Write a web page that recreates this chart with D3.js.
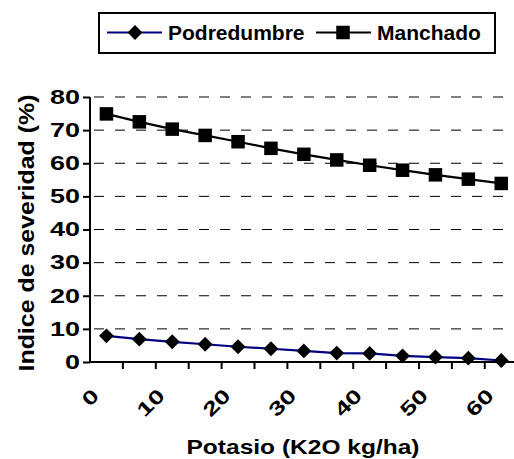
<!DOCTYPE html>
<html>
<head>
<meta charset="utf-8">
<script src="https://cdn.jsdelivr.net/npm/d3@7"></script>
<style>
  html, body { margin: 0; padding: 0; background: #fff; }
  svg { display: block; font-family: "Liberation Sans", Arial, sans-serif; font-weight: bold; }
</style>
</head>
<body>
<svg id="chart" width="514" height="459"></svg>
<script>
const categories = [0, 5, 10, 15, 20, 25, 30, 35, 40, 45, 50, 55, 60];
const podredumbre = [7.9, 6.9, 6.1, 5.35, 4.6, 4.0, 3.35, 2.7, 2.6, 1.85, 1.5, 1.15, 0.45];
const manchado = [74.9, 72.5, 70.3, 68.4, 66.5, 64.5, 62.7, 61.0, 59.4, 57.9, 56.5, 55.2, 53.9];
const yTicks = [0, 10, 20, 30, 40, 50, 60, 70, 80];
const xTickLabels = [0, 10, 20, 30, 40, 50, 60];
const seriesNames = ["Podredumbre", "Manchado"];
const yTitle = "Indice de severidad (%)";
const xTitle = "Potasio (K2O kg/ha)";

(function () {
const svg = d3.select("#chart");
const pLeft = 90, pTop = 97, pBottom = 362, bandW = 32.9;
const pRight = pLeft + categories.length * bandW;
const digitW = 15;

const x = d3.scaleBand().domain(categories).range([pLeft, pRight]).paddingInner(0).paddingOuter(0);
const y = d3.scaleLinear().domain([0, 80]).range([pBottom, pTop]);
const cx = c => x(c) + x.bandwidth() / 2;

// gridlines
svg.append("g").selectAll("line").data(yTicks.filter(v => v > 0)).join("line")
  .attr("x1", pLeft + 4).attr("x2", 514)
  .attr("y1", d => y(d)).attr("y2", d => y(d))
  .attr("stroke", "#000").attr("stroke-width", 1).attr("stroke-dasharray", "10,11");

// y axis
const yAxis = svg.append("g").attr("transform", `translate(${pLeft},0)`)
  .call(d3.axisLeft(y).tickValues(yTicks).tickSize(7).tickPadding(3));
yAxis.select(".domain").attr("stroke", "#000").attr("stroke-width", 2).attr("d", `M0,${pTop}V${pBottom + 1}`);
yAxis.selectAll(".tick line").attr("stroke", "#000").attr("stroke-width", 2);
yAxis.selectAll(".tick text").attr("font-size", 19.5).attr("font-weight", "bold")
  .attr("font-family", "Liberation Sans, Arial, sans-serif").attr("fill", "#000")
  .attr("textLength", d => String(d).length * digitW).attr("lengthAdjust", "spacingAndGlyphs");

// x axis
svg.append("line").attr("x1", pLeft - 1).attr("x2", 514).attr("y1", pBottom).attr("y2", pBottom)
  .attr("stroke", "#000").attr("stroke-width", 2);
svg.append("g").selectAll("line").data(categories.slice(1)).join("line")
  .attr("x1", d => x(d)).attr("x2", d => x(d))
  .attr("y1", pBottom).attr("y2", pBottom + 7)
  .attr("stroke", "#000").attr("stroke-width", 2);
svg.append("g").selectAll("text").data(xTickLabels).join("text")
  .attr("transform", d => `translate(${cx(d) - 11},${pBottom + 30}) rotate(-45)`)
  .attr("text-anchor", "end").attr("dy", "0.35em")
  .attr("font-size", 19.5)
  .attr("textLength", d => String(d).length * digitW).attr("lengthAdjust", "spacingAndGlyphs")
  .text(d => d);

// lines
const line = d3.line().x((d, i) => cx(categories[i])).y(d => y(d));
svg.append("path").datum(manchado).attr("d", line).attr("fill", "none")
  .attr("stroke", "#000").attr("stroke-width", 2.2);
svg.append("path").datum(podredumbre).attr("d", line).attr("fill", "none")
  .attr("stroke", "#000080").attr("stroke-width", 2.2);

// markers
const sq = 13.5, dm = 10.5;
svg.append("g").selectAll("rect").data(manchado).join("rect")
  .attr("x", (d, i) => cx(categories[i]) - sq / 2).attr("y", d => y(d) - sq / 2)
  .attr("width", sq).attr("height", sq).attr("fill", "#000");
svg.append("g").selectAll("rect").data(podredumbre).join("rect")
  .attr("transform", (d, i) => `translate(${cx(categories[i])},${y(d)}) rotate(45)`)
  .attr("x", -dm / 2).attr("y", -dm / 2).attr("width", dm).attr("height", dm).attr("fill", "#000");

// titles
svg.append("text").attr("transform", `translate(34,233) rotate(-90)`)
  .attr("text-anchor", "middle").attr("font-size", 22)
  .attr("textLength", 277).attr("lengthAdjust", "spacingAndGlyphs").text(yTitle);
svg.append("text").attr("x", 303).attr("y", 454).attr("text-anchor", "middle")
  .attr("font-size", 20.5)
  .attr("textLength", 233).attr("lengthAdjust", "spacingAndGlyphs").text(xTitle);

// legend
const lg = svg.append("g");
lg.append("rect").attr("x", 99).attr("y", 13).attr("width", 396).attr("height", 40)
  .attr("fill", "#fff").attr("stroke", "#000").attr("stroke-width", 2);
const legendItems = [
  { name: seriesNames[0], color: "#000080", x0: 107, shape: "diamond" },
  { name: seriesNames[1], color: "#000", x0: 316, shape: "square" }
];
legendItems.forEach(it => {
  lg.append("line").attr("x1", it.x0).attr("x2", it.x0 + 55).attr("y1", 32.5).attr("y2", 32.5)
    .attr("stroke", it.color).attr("stroke-width", 2);
  if (it.shape === "diamond") {
    lg.append("rect").attr("transform", `translate(${it.x0 + 28},32.5) rotate(45)`)
      .attr("x", -dm / 2).attr("y", -dm / 2).attr("width", dm).attr("height", dm).attr("fill", "#000");
  } else {
    lg.append("rect").attr("x", it.x0 + 27 - sq / 2).attr("y", 32.5 - sq / 2)
      .attr("width", sq).attr("height", sq).attr("fill", "#000");
  }
  lg.append("text").attr("x", it.x0 + 61).attr("y", 40)
    .attr("font-size", 21).text(it.name);
});
})();
</script>
</body>
</html>
